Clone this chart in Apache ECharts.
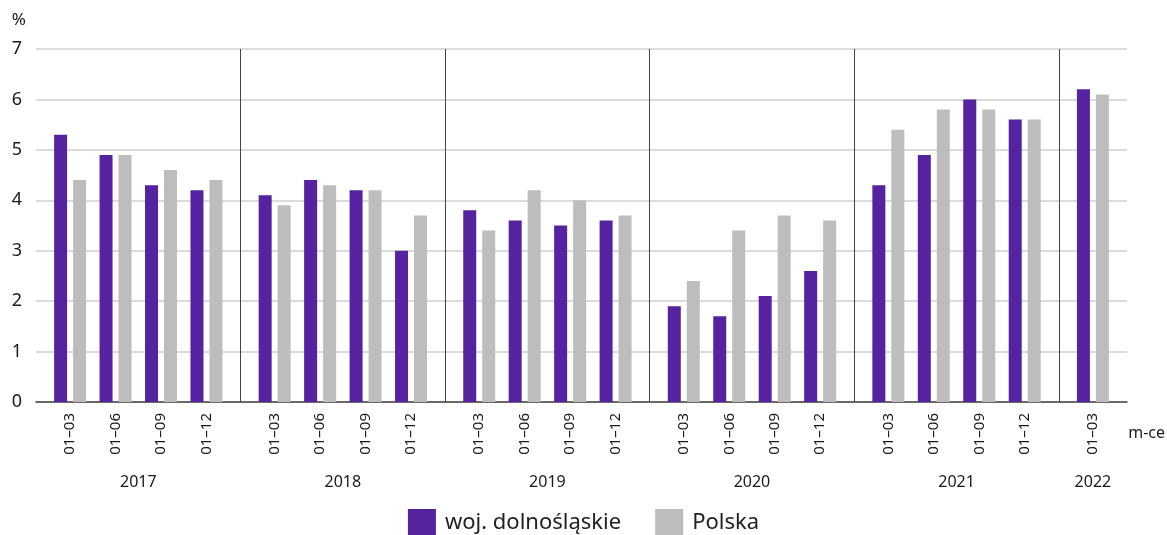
<!DOCTYPE html>
<html>
<head>
<meta charset="utf-8">
<script src="https://cdn.jsdelivr.net/npm/echarts@6/dist/echarts.min.js"></script>
<style>
  html, body { margin: 0; padding: 0; background: #fff; }
  #chart { width: 1167px; height: 535px; }
</style>
</head>
<body>
<div id="chart"></div>
<script>
// data
const years = ['2017', '2018', '2019', '2020', '2021', '2022'];
const periods = [
  ['01–03', '01–06', '01–09', '01–12'],
  ['01–03', '01–06', '01–09', '01–12'],
  ['01–03', '01–06', '01–09', '01–12'],
  ['01–03', '01–06', '01–09', '01–12'],
  ['01–03', '01–06', '01–09', '01–12'],
  ['01–03']
];
const dolnoslaskie = [5.3, 4.9, 4.3, 4.2, 4.1, 4.4, 4.2, 3.0, 3.8, 3.6, 3.5, 3.6, 1.9, 1.7, 2.1, 2.6, 4.3, 4.9, 6.0, 5.6, 6.2];
const polska = [4.4, 4.9, 4.6, 4.4, 3.9, 4.3, 4.2, 3.7, 3.4, 4.2, 4.0, 3.7, 2.4, 3.4, 3.7, 3.6, 5.4, 5.8, 5.8, 5.6, 6.1];
const yTicks = [0, 1, 2, 3, 4, 5, 6, 7];

// x scale in half-slot units: each year block is 18 wide, periods 4 apart
const YEAR_SPAN = 18, FIRST = 3, STEP = 4;
const positions = [];
const periodLabels = {};
const yearLabels = {};
years.forEach((y, yi) => {
  const ps = periods[yi].map((p, q) => {
    const x = yi * YEAR_SPAN + FIRST + q * STEP;
    periodLabels[x] = p;
    positions.push(x);
    return x;
  });
  yearLabels[(ps[0] + ps[ps.length - 1]) / 2] = y;
});
const xMax = (years.length - 1) * YEAR_SPAN + 2 * FIRST;
const separators = years.slice(1).map((y, i) => ({ xAxis: (i + 1) * YEAR_SPAN }));

const font = '"Noto Sans", sans-serif';
const chart = echarts.init(document.getElementById('chart'));

chart.setOption({
  animation: false,
  textStyle: { fontFamily: font },
  grid: { left: 36, right: 40, top: 49, bottom: 133 },
  legend: {
    bottom: -6,
    left: 'center',
    itemWidth: 28,
    itemHeight: 27,
    itemGap: 34,
    icon: 'rect',
    textStyle: { fontSize: 22, color: '#222', fontFamily: font, padding: [0, 0, 0, 4] },
    data: ['woj. dolnośląskie', 'Polska']
  },
  xAxis: [
    {
      type: 'value',
      min: 0,
      max: xMax,
      interval: 1,
      axisLine: { show: true, lineStyle: { color: '#444', width: 1.5 } },
      axisTick: { show: false },
      splitLine: { show: false },
      axisLabel: {
        rotate: 90,
        margin: 11,
        fontSize: 15,
        color: '#1a1a1a',
        formatter: v => periodLabels[v] || ''
      }
    },
    {
      type: 'value',
      min: 0,
      max: xMax,
      interval: 1,
      position: 'bottom',
      axisLine: { show: false },
      axisTick: { show: false },
      splitLine: { show: false },
      axisLabel: {
        margin: 72,
        fontSize: 16,
        color: '#1a1a1a',
        formatter: v => yearLabels[v] || ''
      }
    }
  ],
  yAxis: {
    type: 'value',
    min: yTicks[0],
    max: yTicks[yTicks.length - 1],
    interval: 1,
    name: '%',
    nameGap: 20,
    nameTextStyle: { fontSize: 17, color: '#1a1a1a', align: 'right', padding: [0, 10, 0, 0] },
    axisLine: { show: false },
    axisTick: { show: false },
    axisLabel: { fontSize: 18, color: '#1a1a1a', margin: 14 },
    splitLine: { lineStyle: { color: '#cfcfcf', width: 1.5 } }
  },
  series: [
    {
      name: 'woj. dolnośląskie',
      type: 'bar',
      xAxisIndex: 0,
      barWidth: 13,
      barGap: '46%',
      itemStyle: { color: '#5623a0' },
      data: dolnoslaskie.map((v, i) => [positions[i], v])
    },
    {
      name: 'Polska',
      type: 'bar',
      xAxisIndex: 0,
      barWidth: 13,
      barGap: '46%',
      itemStyle: { color: '#bdbdbd' },
      data: polska.map((v, i) => [positions[i], v])
    },
    {
      name: 'separators',
      type: 'line',
      xAxisIndex: 0,
      data: [],
      markLine: {
        silent: true,
        symbol: ['none', 'none'],
        label: { show: false },
        lineStyle: { color: '#444', type: 'solid', width: 1 },
        data: separators
      }
    }
  ],
  graphic: [
    {
      type: 'text',
      right: 2,
      top: 425,
      style: { text: 'm-ce', fontSize: 16, fill: '#1a1a1a', fontFamily: font }
    }
  ]
});
</script>
</body>
</html>
